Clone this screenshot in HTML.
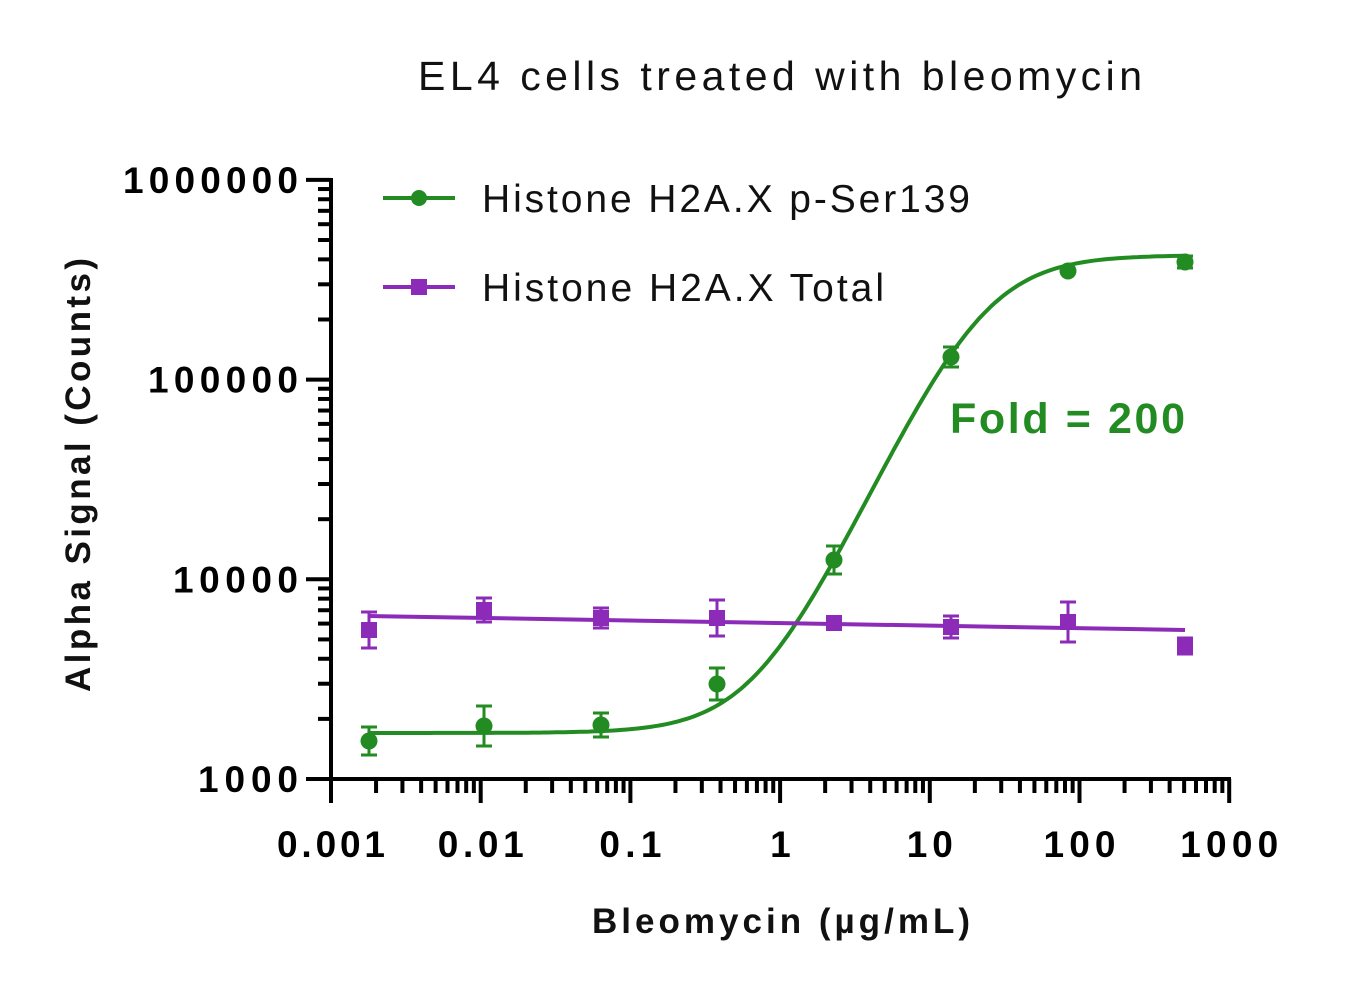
<!DOCTYPE html>
<html><head><meta charset="utf-8"><style>
html,body{margin:0;padding:0;background:#fff;}
svg{display:block;font-family:"Liberation Sans",sans-serif;}
</style></head><body>
<svg id="s" width="1369" height="992" viewBox="0 0 1369 992" xmlns="http://www.w3.org/2000/svg">
<text x="418" y="90" font-size="41" textLength="724" lengthAdjust="spacing" fill="#111">EL4 cells treated with bleomycin</text>
<text transform="translate(90,692) rotate(-90)" font-size="35" font-weight="bold" textLength="434" lengthAdjust="spacing" fill="#111">Alpha Signal (Counts)</text>
<text x="592" y="933" font-size="35" font-weight="bold" textLength="378" lengthAdjust="spacing" fill="#111">Bleomycin (µg/mL)</text>
<g id="ax" stroke="#000" stroke-width="4" fill="none"></g>
<g id="lab" font-size="37" font-weight="bold" fill="#000"></g>
<g id="dat"></g>
<line x1="383" y1="198" x2="455" y2="198" stroke="#228B22" stroke-width="4"/>
<circle cx="419" cy="198" r="8" fill="#228B22"/>
<text x="482" y="212" font-size="39" textLength="488" lengthAdjust="spacing" fill="#111">Histone H2A.X p-Ser139</text>
<line x1="383" y1="287" x2="455" y2="287" stroke="#8B2BB8" stroke-width="4"/>
<rect x="411" y="279" width="16" height="16" fill="#8B2BB8"/>
<text x="482" y="301" font-size="39" textLength="402" lengthAdjust="spacing" fill="#111">Histone H2A.X Total</text>
<text x="950" y="433" font-size="43" font-weight="bold" fill="#228B22" textLength="235" lengthAdjust="spacing">Fold = 200</text>
</svg>
<script>
const NS="http://www.w3.org/2000/svg";
function el(p,t,a){const e=document.createElementNS(NS,t);for(const k in a)e.setAttribute(k,a[k]);p.appendChild(e);return e;}
const X=v=>331+(Math.log10(v)+3)*149.7;
const Y=v=>779-(Math.log10(v)-3)*199.7;
const ax=document.getElementById('ax'),lab=document.getElementById('lab'),dat=document.getElementById('dat');
el(ax,'line',{x1:331,y1:178,x2:331,y2:781});
el(ax,'line',{x1:329,y1:779,x2:1231,y2:779});
for(let d=3;d<=6;d++){for(let m=1;m<10;m++){if(d==6&&m>1)break;const y=Y(m*Math.pow(10,d));el(ax,'line',{x1:m==1?306:318,y1:y,x2:331,y2:y});}
 const s=String(Math.pow(10,d));const t=el(lab,'text',{x:298-s.length*25,y:Y(Math.pow(10,d))+13,textLength:s.length*25,lengthAdjust:'spacing'});t.textContent=s;}
const xl=['0.001','0.01','0.1','1','10','100','1000'];
const xw=[108,86,62,20,46,72,98];
for(let d=-3;d<=3;d++){for(let m=1;m<10;m++){if(d==3&&m>1)break;const x=X(m*Math.pow(10,d));el(ax,'line',{x1:x,y1:779,x2:x,y2:m==1?803:793});}
 const w=xw[d+3];const t=el(lab,'text',{x:X(Math.pow(10,d))-w/2,y:857,textLength:w,lengthAdjust:'spacing'});t.textContent=xl[d+3];}
const G='#228B22',P='#8B2BB8';
let pts=[];for(let i=0;i<=200;i++){const lx=Math.log10(0.0018)+i/200*(Math.log10(488)-Math.log10(0.0018));const x=Math.pow(10,lx);
 const y=1700+(418300)/(1+Math.pow(22.5/x,1.59));pts.push(X(x).toFixed(1)+','+Y(y).toFixed(1));}
el(dat,'polyline',{points:pts.join(' '),fill:'none',stroke:G,'stroke-width':4});
el(dat,'line',{x1:369,y1:616,x2:1185,y2:630,stroke:P,'stroke-width':4});
const xs=[369,484,601,717,834,951,1068,1185];
const gy=[741,726,725,684,560,357,271,262],ge=[14,20,12,16,14,10,5,6];
const py=[630,610,618,618,623,627,622,646],pe=[18,12,10,18,5,11,20,8];
function eb(x,y,e,c){if(e<6)return;el(dat,'line',{x1:x,y1:y-e,x2:x,y2:y+e,stroke:c,'stroke-width':3});
 el(dat,'line',{x1:x-8,y1:y-e,x2:x+8,y2:y-e,stroke:c,'stroke-width':3});el(dat,'line',{x1:x-8,y1:y+e,x2:x+8,y2:y+e,stroke:c,'stroke-width':3});}
xs.forEach((x,i)=>{eb(x,py[i],pe[i],P);el(dat,'rect',{x:x-8,y:py[i]-8,width:16,height:16,fill:P});});
xs.forEach((x,i)=>{eb(x,gy[i],ge[i],G);el(dat,'circle',{cx:x,cy:gy[i],r:8.5,fill:G});});
</script>
</body></html>
